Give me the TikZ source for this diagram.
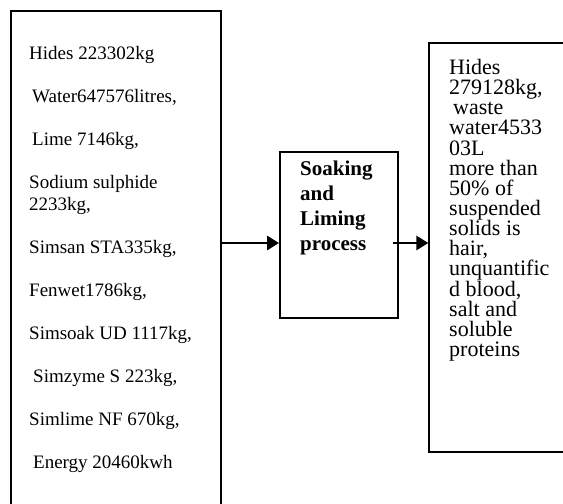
\documentclass[tikz,border=0pt]{standalone}
\usepackage{fontspec}
\setmainfont{Liberation Serif}
\usepackage{tikz}
\usetikzlibrary{positioning,arrows.meta,calc}
\tikzset{
  box/.style  ={draw=black, line width=1.3pt, minimum width=#1, inner sep=0pt},
  pbox/.style ={draw=black, line width=1.9pt, inner sep=0pt},
  lst/.style  ={align=left, inner sep=0pt, anchor=north west,
                font=\fontsize{19}{22}\selectfont},
  ar/.style   ={-{Triangle[length=12pt,width=14pt]}, draw=black, line width=2.8pt},
}

\begin{document}
\begin{tikzpicture}[x=1pt,y=-1pt]
\useasboundingbox (0,0) rectangle (563,504);
\clip (0,0) rectangle (563,504);
% the three boxes
\node[box=210pt,minimum height=549pt] (inputs) at (116,285.5) {};
\node[pbox,minimum width=118pt,minimum height=166pt] (proc) at (339,235) {};
\node[box=171pt,minimum height=409pt] (outputs) at (514.5,247.5) {};
% texts
\node[lst] (intext) at (29,46) {Hides 223302kg\\[21pt]
 \hspace{3pt}Water647576litres,\\[21pt]
 \hspace{3pt}Lime 7146kg,\\[21pt]
 Sodium sulphide\\ 2233kg,\\[21pt]
 Simsan STA335kg,\\[21pt]
 Fenwet1786kg,\\[21pt]
 Simsoak UD 1117kg,\\[21pt]
 \hspace{4pt}Simzyme S 223kg,\\[21pt]
 Simlime NF 670kg,\\[21pt]
 \hspace{4pt}Energy 20460kwh};
\node[lst,font=\fontsize{21}{25}\selectfont\bfseries] (proctext) at (300,161) {Soaking\\ and\\ Liming\\ process};
\node[lst,font=\fontsize{22}{20.15}\selectfont] (outtext) at (449,59) {Hides\\ 279128kg,\\
 \hspace{4pt}waste\\ water4533\\ 03L\\ more than\\ 50\% of\\ suspended\\ solids is\\ hair,\\
 unquantific\\ d blood,\\ salt and\\ soluble\\ proteins};
% flows
\coordinate (flow) at (0,243);
\draw[ar] (inputs.east |- flow) -- (proc.west |- flow);
\draw[ar] ([xshift=-6pt]proc.east |- flow) -- (outputs.west |- flow);
\end{tikzpicture}
\end{document}
